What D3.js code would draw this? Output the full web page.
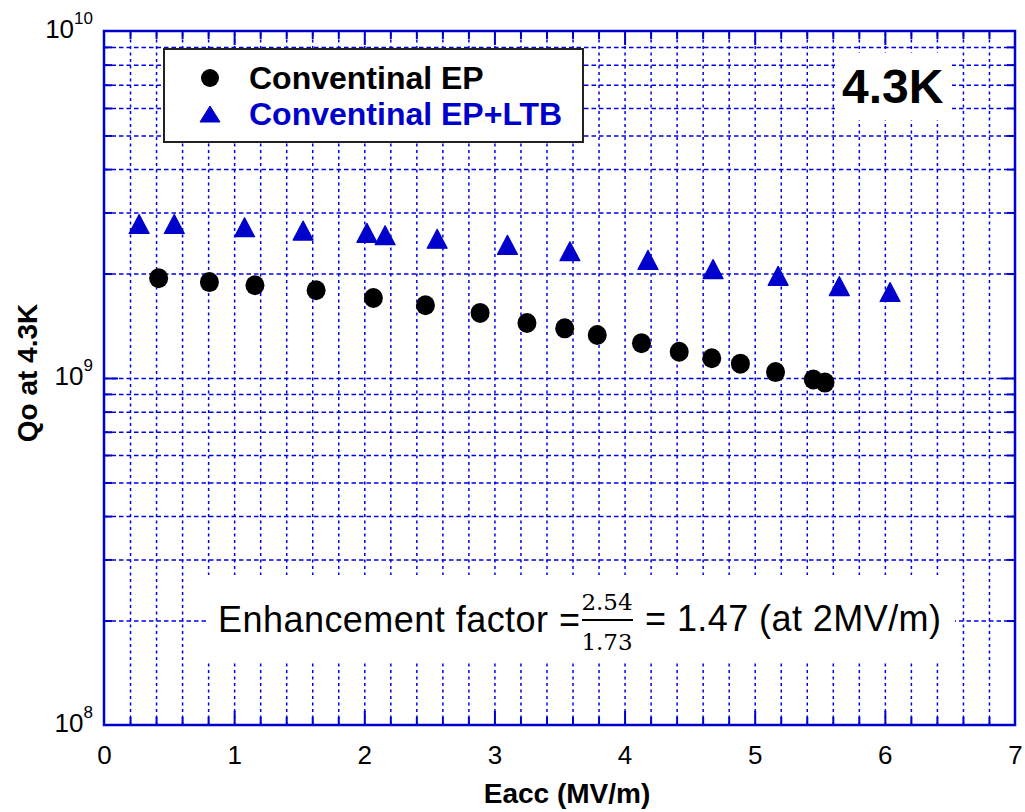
<!DOCTYPE html>
<html>
<head>
<meta charset="utf-8">
<script src="https://cdn.jsdelivr.net/npm/d3@7"></script>
<style>
  html, body { margin: 0; padding: 0; background: #fff; }
  svg { display: block; font-family: "Liberation Sans", Arial, sans-serif; }
</style>
</head>
<body>
<svg id="chart" width="1025" height="812"></svg>
<script>
// Conventional EP: accelerating gradient (MV/m) and Qo at 4.3 K
const epEacc = [0.42, 0.81, 1.16, 1.63, 2.07, 2.47, 2.89, 3.25, 3.54, 3.79, 4.13, 4.42, 4.67, 4.89, 5.16, 5.45, 5.54];
const epQ    = [1.94e9, 1.89e9, 1.85e9, 1.79e9, 1.70e9, 1.62e9, 1.54e9, 1.44e9, 1.39e9, 1.33e9, 1.26e9, 1.19e9, 1.14e9, 1.10e9, 1.04e9, 0.99e9, 0.97e9];

// Conventional EP + low temperature bake
const ltbEacc = [0.27, 0.54, 1.08, 1.53, 2.02, 2.16, 2.56, 3.10, 3.58, 4.18, 4.68, 5.18, 5.65, 6.04];
const ltbQ    = [2.78e9, 2.78e9, 2.72e9, 2.66e9, 2.62e9, 2.58e9, 2.52e9, 2.42e9, 2.32e9, 2.19e9, 2.06e9, 1.97e9, 1.84e9, 1.77e9];

const seriesNames = ["Conventinal EP", "Conventinal EP+LTB"];
const xTickLabels = [0, 1, 2, 3, 4, 5, 6, 7];
const yDecades = [1e8, 1e9, 1e10];

const BLUE = "#0000cc";
const GRID = "#0000e6";

const svg = d3.select("#chart");
const plotL = 104, plotR = 1015, plotT = 31, plotB = 725;
const W = plotR - plotL, H = plotB - plotT;

const x = d3.scaleLinear().domain([0, 7]).range([plotL, plotR]);
const y = d3.scaleLog().domain([1e8, 1e10]).range([plotB, plotT]);

// minor positions
const xMinor = d3.range(1, 35).map(i => +(i * 0.2).toFixed(1));
const yMinor = [];
[1e8, 1e9].forEach(d => { for (let k = 2; k <= 9; k++) yMinor.push(d * k); });
yMinor.push(1e9);

// ---- grid ----
const gGrid = svg.append("g");
gGrid.append("g")
  .attr("transform", `translate(0,${plotB})`)
  .call(d3.axisBottom(x).tickValues(xMinor).tickSize(-H).tickFormat(""))
  .call(g => g.select(".domain").remove())
  .call(g => g.selectAll("line").attr("stroke", GRID).attr("stroke-width", 1.5).attr("stroke-dasharray", "3,3.5"));
gGrid.append("g")
  .attr("transform", `translate(${plotL},0)`)
  .call(d3.axisLeft(y).tickValues(yMinor).tickSize(-W).tickFormat(""))
  .call(g => g.select(".domain").remove())
  .call(g => g.selectAll("line").attr("stroke", GRID).attr("stroke-width", 1.5).attr("stroke-dasharray", "4.5,3"));

// ---- inward tick marks on all four sides ----
function ticks(axisFn, transform, values, size) {
  svg.append("g")
    .attr("transform", transform)
    .call(axisFn.tickValues(values).tickSize(-size).tickFormat(""))
    .call(g => g.select(".domain").remove())
    .call(g => g.selectAll("line").attr("stroke", BLUE).attr("stroke-width", 2));
}
const xMajor = xTickLabels.slice(1, -1);
const xMinorOnly = xMinor.filter(v => Math.abs(v - Math.round(v)) > 1e-6);
const yMinorOnly = yMinor.filter(v => v !== 1e9);
ticks(d3.axisBottom(x), `translate(0,${plotB})`, xMajor, 14);
ticks(d3.axisBottom(x), `translate(0,${plotB})`, xMinorOnly, 8);
ticks(d3.axisTop(x), `translate(0,${plotT})`, xMajor, 14);
ticks(d3.axisTop(x), `translate(0,${plotT})`, xMinorOnly, 8);
ticks(d3.axisLeft(y), `translate(${plotL},0)`, [1e9], 14);
ticks(d3.axisLeft(y), `translate(${plotL},0)`, yMinorOnly, 8);
ticks(d3.axisRight(y), `translate(${plotR},0)`, [1e9], 14);
ticks(d3.axisRight(y), `translate(${plotR},0)`, yMinorOnly, 8);

// ---- frame ----
svg.append("rect")
  .attr("x", plotL).attr("y", plotT).attr("width", W).attr("height", H)
  .attr("fill", "none").attr("stroke", BLUE).attr("stroke-width", 2.5);

// ---- tick labels ----
svg.append("g")
  .attr("transform", `translate(0,${plotB})`)
  .call(d3.axisBottom(x).tickValues(xTickLabels).tickSize(0).tickPadding(21).tickFormat(d3.format("d")))
  .call(g => g.select(".domain").remove())
  .call(g => g.attr("font-size", null).attr("font-family", null))
  .call(g => g.selectAll("text")
    .style("font-size", "26px").attr("fill", "#000")
    .style("font-family", "'Liberation Sans', Arial, sans-serif"));

svg.append("g")
  .attr("transform", `translate(${plotL},0)`)
  .call(d3.axisLeft(y).tickValues(yDecades).tickSize(0).tickPadding(11).tickFormat(""))
  .call(g => g.select(".domain").remove())
  .call(g => g.attr("font-size", null).attr("font-family", null))
  .call(g => g.selectAll("text").each(function(d) {
    const t = d3.select(this)
      .attr("dy", null).attr("y", 6)
      .attr("fill", "#000")
      .style("font-size", "26px")
      .style("font-family", "'Liberation Sans', Arial, sans-serif");
    t.append("tspan").style("font-size", "26px").text("10");
    t.append("tspan").style("font-size", "17px").attr("dy", -14).text(Math.round(Math.log10(d)));
  }));

// ---- axis titles ----
svg.append("text")
  .attr("x", 567).attr("y", 803)
  .attr("text-anchor", "middle").style("font-size", "28px").attr("font-weight", "bold")
  .text("Eacc (MV/m)");
svg.append("text")
  .attr("transform", "translate(37,373) rotate(-90)")
  .attr("text-anchor", "middle").style("font-size", "28px").attr("font-weight", "bold")
  .text("Qo at 4.3K");

// ---- data markers ----
const triW = 20, triH = 19;
const triangle = (w, h) => `M0,${-h / 2}L${w / 2},${h / 2}L${-w / 2},${h / 2}Z`;

svg.append("g").selectAll("path")
  .data(d3.zip(ltbEacc, ltbQ))
  .join("path")
  .attr("d", triangle(triW, triH))
  .attr("transform", d => `translate(${x(d[0])},${y(d[1])})`)
  .attr("fill", BLUE).attr("stroke", BLUE).attr("stroke-width", 1.2).attr("stroke-linejoin", "round");

svg.append("g").selectAll("ellipse")
  .data(d3.zip(epEacc, epQ))
  .join("ellipse")
  .attr("cx", d => x(d[0])).attr("cy", d => y(d[1]))
  .attr("rx", 9.5).attr("ry", 10)
  .attr("fill", "#000");

// ---- legend ----
const lg = svg.append("g");
lg.append("rect").attr("x", 164).attr("y", 49).attr("width", 419).attr("height", 93)
  .attr("fill", "#fff").attr("stroke", "#222").attr("stroke-width", 2);
lg.append("circle").attr("cx", 210).attr("cy", 78).attr("r", 9).attr("fill", "#000");
lg.append("path").attr("d", triangle(20, 16)).attr("transform", "translate(210,114)")
  .attr("fill", BLUE).attr("stroke", BLUE).attr("stroke-linejoin", "round");
lg.append("text").attr("x", 249).attr("y", 89).style("font-size", "32px").attr("font-weight", "bold")
  .attr("fill", "#000").text(seriesNames[0]);
lg.append("text").attr("x", 249).attr("y", 125).style("font-size", "32px").attr("font-weight", "bold")
  .attr("fill", BLUE).text(seriesNames[1]);

// ---- temperature tag ----
svg.append("rect").attr("x", 835).attr("y", 53).attr("width", 117).attr("height", 67).attr("fill", "#fff");
svg.append("text").attr("x", 842).attr("y", 103).style("font-size", "48px").attr("font-weight", "bold")
  .text("4.3K");

// ---- enhancement factor annotation ----
const ann = svg.append("g");
ann.append("rect").attr("x", 207).attr("y", 575).attr("width", 748).attr("height", 85).attr("fill", "#fff");
ann.append("text").attr("x", 218).attr("y", 632).style("font-size", "36px")
  .attr("textLength", 362).attr("lengthAdjust", "spacing")
  .text("Enhancement factor =");
ann.append("text").attr("x", 607).attr("y", 610).style("font-size", "23px").attr("text-anchor", "middle")
  .style("font-family", "'DejaVu Serif', 'Liberation Serif', serif").text("2.54");
ann.append("line").attr("x1", 582).attr("x2", 633).attr("y1", 620).attr("y2", 620)
  .attr("stroke", "#000").attr("stroke-width", 2);
ann.append("text").attr("x", 607).attr("y", 650).style("font-size", "23px").attr("text-anchor", "middle")
  .style("font-family", "'DejaVu Serif', 'Liberation Serif', serif").text("1.73");
ann.append("text").attr("x", 645).attr("y", 631).style("font-size", "36px")
  .attr("textLength", 296).attr("lengthAdjust", "spacing")
  .text("= 1.47 (at 2MV/m)");
</script>
</body>
</html>
